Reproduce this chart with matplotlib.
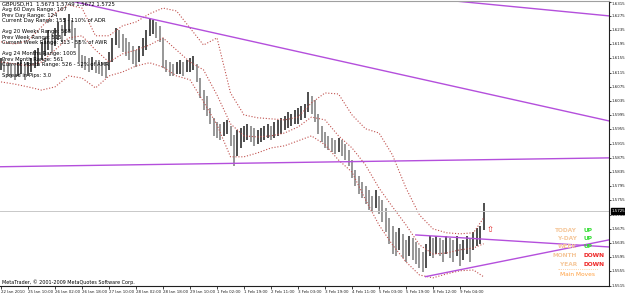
import matplotlib
matplotlib.use("Agg")
import matplotlib.pyplot as plt

# ---------------- data (2-hour bars, GBPUSD) ----------------
highs = [
    1.6157, 1.6151, 1.6145, 1.6140, 1.6134, 1.6145, 1.6151, 1.6140, 1.6145, 1.6157,
    1.6179, 1.6185, 1.6202, 1.6213, 1.6235, 1.6224, 1.6241, 1.6258, 1.6250, 1.6269,
    1.6281, 1.6264, 1.6241, 1.6207, 1.6165, 1.6162, 1.6157, 1.6159, 1.6151, 1.6151,
    1.6145, 1.6145, 1.6174, 1.6213, 1.6241, 1.6235, 1.6224, 1.6213, 1.6202, 1.6190,
    1.6179, 1.6190, 1.6213, 1.6235, 1.6269, 1.6264, 1.6258, 1.6247, 1.6213, 1.6151,
    1.6145, 1.6140, 1.6145, 1.6151, 1.6145, 1.6151, 1.6157, 1.6162, 1.6140, 1.6100,
    1.6066, 1.6050, 1.6016, 1.5988, 1.5976, 1.5971, 1.5976, 1.5982, 1.5965, 1.5940,
    1.5954, 1.5959, 1.5965, 1.5971, 1.5965, 1.5959, 1.5954, 1.5959, 1.5965, 1.5971,
    1.5965, 1.5976, 1.5982, 1.5988, 1.5993, 1.6004, 1.5999, 1.6010, 1.6016, 1.6021,
    1.6027, 1.6061, 1.6050, 1.6038, 1.5999, 1.5965, 1.5948, 1.5937, 1.5931, 1.5926,
    1.5931, 1.5926, 1.5914, 1.5897, 1.5869, 1.5841, 1.5824, 1.5807, 1.5796, 1.5785,
    1.5768, 1.5785, 1.5768, 1.5757, 1.5734, 1.5706, 1.5683, 1.5666, 1.5678, 1.5661,
    1.5644, 1.5655, 1.5650, 1.5638, 1.5621, 1.5610, 1.5633, 1.5655, 1.5650, 1.5655,
    1.5650, 1.5644, 1.5655, 1.5650, 1.5644, 1.5655, 1.5633, 1.5644, 1.5655, 1.5650,
    1.5666, 1.5678, 1.5683, 1.5749]
lows = [
    1.6123, 1.6117, 1.6106, 1.6100, 1.6095, 1.6106, 1.6112, 1.6095, 1.6106, 1.6117,
    1.6128, 1.6134, 1.6151, 1.6162, 1.6179, 1.6174, 1.6190, 1.6207, 1.6202, 1.6219,
    1.6230, 1.6207, 1.6185, 1.6145, 1.6128, 1.6123, 1.6117, 1.6123, 1.6114, 1.6112,
    1.6106, 1.6100, 1.6123, 1.6145, 1.6193, 1.6185, 1.6174, 1.6162, 1.6151, 1.6140,
    1.6131, 1.6145, 1.6162, 1.6179, 1.6219, 1.6224, 1.6213, 1.6202, 1.6128, 1.6117,
    1.6106, 1.6106, 1.6112, 1.6112, 1.6106, 1.6117, 1.6117, 1.6123, 1.6089, 1.6044,
    1.6010, 1.5993, 1.5971, 1.5937, 1.5931, 1.5926, 1.5937, 1.5943, 1.5909, 1.5852,
    1.5881, 1.5903, 1.5920, 1.5926, 1.5920, 1.5909, 1.5914, 1.5920, 1.5926, 1.5931,
    1.5926, 1.5931, 1.5937, 1.5943, 1.5954, 1.5959, 1.5965, 1.5971, 1.5971, 1.5982,
    1.5988, 1.6004, 1.5999, 1.5976, 1.5943, 1.5920, 1.5903, 1.5897, 1.5892, 1.5886,
    1.5892, 1.5881, 1.5869, 1.5852, 1.5819, 1.5796, 1.5773, 1.5762, 1.5745, 1.5728,
    1.5723, 1.5734, 1.5717, 1.5695, 1.5666, 1.5633, 1.5604, 1.5599, 1.5616, 1.5593,
    1.5582, 1.5599, 1.5588, 1.5576, 1.5565, 1.5554, 1.5565, 1.5599, 1.5593, 1.5604,
    1.5599, 1.5582, 1.5604, 1.5593, 1.5582, 1.5599, 1.5571, 1.5588, 1.5604, 1.5582,
    1.5616, 1.5627, 1.5633, 1.5672]

# Bollinger-style bands, sampled every 4 bars (plus last bar)
band_idx = list(range(0, 141, 4)) + [143]
band_upper = [1.6202, 1.6196, 1.6205, 1.6244, 1.6283, 1.6306, 1.6297, 1.6219, 1.6219, 1.6247,
              1.6258, 1.6281, 1.6297, 1.6289, 1.6241, 1.6193, 1.6213, 1.6058, 1.5996, 1.5988,
              1.5985, 1.5982, 1.5990, 1.6030, 1.6058, 1.6055, 1.5996, 1.5957, 1.5945, 1.5883,
              1.5790, 1.5714, 1.5675, 1.5664, 1.5661, 1.5664, 1.5706]
band_mid = [1.6145, 1.6140, 1.6134, 1.6145, 1.6179, 1.6213, 1.6219, 1.6179, 1.6145, 1.6168,
            1.6179, 1.6193, 1.6213, 1.6179, 1.6145, 1.6123, 1.6052, 1.5971, 1.5937, 1.5934,
            1.5937, 1.5945, 1.5962, 1.5990, 1.5982, 1.5937, 1.5903, 1.5855, 1.5790, 1.5737,
            1.5686, 1.5630, 1.5604, 1.5607, 1.5616, 1.5621, 1.5633]
band_lower = [1.6089, 1.6083, 1.6075, 1.6066, 1.6075, 1.6106, 1.6100, 1.6072, 1.6106, 1.6117,
              1.6134, 1.6143, 1.6131, 1.6106, 1.6095, 1.6033, 1.5968, 1.5878, 1.5878, 1.5889,
              1.5903, 1.5909, 1.5923, 1.5937, 1.5912, 1.5869, 1.5835, 1.5757, 1.5686, 1.5630,
              1.5582, 1.5545, 1.5537, 1.5548, 1.5557, 1.5559, 1.5540]

# trend lines: (bar index, price) anchor pairs
trend_lines = [
    ((134.5, 1.6317), (180.2, 1.6275)),
    ((19.3, 1.6320), (180.2, 1.5979)),
    ((-0.3, 1.5850), (180.2, 1.5875)),
    ((122.7, 1.5658), (180.2, 1.5624)),
    ((125.6, 1.5540), (180.2, 1.5644)),
]
bid_price = 1.5725
arrow_price = 1.5672

price_ticks = [round(1.6315 - 0.004 * k, 4) for k in range(21)]
date_tick_idx = list(range(0, 137, 8))
date_labels = ["22 Jan 2010", "25 Jan 10:00", "26 Jan 02:00", "26 Jan 18:00", "27 Jan 10:00",
               "28 Jan 02:00", "28 Jan 18:00", "29 Jan 10:00", "1 Feb 02:00", "1 Feb 19:00",
               "2 Feb 11:00", "3 Feb 03:00", "3 Feb 19:00", "4 Feb 11:00", "5 Feb 03:00",
               "5 Feb 19:00", "8 Feb 12:00", "9 Feb 04:00"]

info_lines = [
    "GBPUSD,H1  1.5673 1.5749 1.5672 1.5725",
    "Avg 60 Days Range: 167",
    "Prev Day Range: 124",
    "Current Day Range: 155 - 110% of ADR",
    "",
    "Avg 20 Weeks Range: 563",
    "Prev Week Range: 515",
    "Current Week Range: 313 - 55% of AWR",
    "",
    "Avg 24 Months Range: 1005",
    "Prev Month Range: 561",
    "Current Month Range: 526 - 52% of AMR",
    "",
    "Spread in Pips: 3.0",
]
move_periods = ["TODAY", "Y-DAY", "WEEK", "MONTH", "YEAR"]
move_dirs = ["UP", "UP", "UP", "DOWN", "DOWN"]

# ---------------- figure ----------------
W, H = 625, 293
fig = plt.figure(figsize=(W / 100, H / 100), dpi=100)
fig.patch.set_facecolor("white")
ax = fig.add_axes([0, 7 / H, 609 / W, 285 / H])
ax.set_facecolor("white")
ax.set_xlim(-0.3, 180.15)
ax.set_ylim(1.5514, 1.6317)

# bars
for i, (hi, lo) in enumerate(zip(highs, lows)):
    prev_mid = (highs[i - 1] + lows[i - 1]) / 2 if i > 0 else (hi + lo) / 2
    col = "#1e1e1e" if (hi + lo) / 2 >= prev_mid else "#7a7a7a"
    ax.vlines(i, lo, hi, color=col, lw=1.1)

# bands
for b in (band_upper, band_mid, band_lower):
    ax.plot(band_idx, b, color="#c0504d", lw=0.8, ls=(0, (1, 1.6)))

# trend lines
for (x0, y0), (x1, y1) in trend_lines:
    ax.plot([x0, x1], [y0, y1], color="#b44fdc", lw=1.0, solid_capstyle="butt")

ax.axhline(bid_price, color="#c8c8c8", lw=0.7)

# axes styling
ax.spines["left"].set_visible(False)
ax.spines["top"].set_color("#a0a0a0")
ax.spines["top"].set_linewidth(0.8)
ax.spines["right"].set_color("#202020")
ax.spines["bottom"].set_color("#202020")
ax.spines["right"].set_linewidth(0.8)
ax.spines["bottom"].set_linewidth(0.8)

ax.yaxis.tick_right()
ax.set_yticks(price_ticks)
ax.set_yticklabels([f"{p:.4f}" for p in price_ticks])
ax.tick_params(axis="y", direction="out", length=1.5, width=0.6, pad=0.6, labelsize=2.9,
               colors="#202020")
for lbl in ax.get_yticklabels():
    lbl.set_verticalalignment("center")
ax.get_yticklabels()[0].set_verticalalignment("top")
ax.set_xticks(date_tick_idx)
ax.set_xticklabels(date_labels, ha="left")
ax.tick_params(axis="x", direction="out", length=2, width=0.6, pad=0.6, labelsize=2.9,
               colors="#202020")

# bid price box
ax.text(1.004, (bid_price - 1.5514) / (1.6317 - 1.5514), f"{bid_price:.4f}",
        transform=ax.transAxes, fontsize=2.9, color="white", va="center", ha="left",
        bbox=dict(boxstyle="square,pad=0.2", fc="black", ec="black"))

# info text
y = H - 4
for line in info_lines:
    if line:
        fig.text(2 / W, y / H, line, fontsize=3.8, color="black", va="center", ha="left")
    y -= 5.5

# main moves panel
for k, (per, d) in enumerate(zip(move_periods, move_dirs)):
    yy = (H - 230 - 8.5 * k) / H
    fig.text(577 / W, yy, per, fontsize=4.2, color="#f5c79a", ha="right", va="center",
             fontweight="bold")
    fig.text(583 / W, yy, d, fontsize=4.2, color="#33dd33" if d == "UP" else "#ee2222",
             ha="left", va="center", fontweight="bold")
fig.text(578 / W, (H - 269.5) / H, "\u00b7" * 22, fontsize=4.2, color="#ffa040",
         ha="center", va="center")
fig.text(577 / W, (H - 274) / H, "Main Moves", fontsize=4.2, color="#ffa040",
         ha="center", va="center")

# red arrow marker
ax.text(145.0, arrow_price, "\u21e7", fontsize=6, color="#e02020", ha="center", va="center")

fig.text(2 / W, (H - 282) / H, "MetaTrader, \u00a9 2001-2009 MetaQuotes Software Corp.",
         fontsize=3.5, color="black", ha="left", va="center")

fig.savefig("out.png", dpi=100, facecolor="white")
